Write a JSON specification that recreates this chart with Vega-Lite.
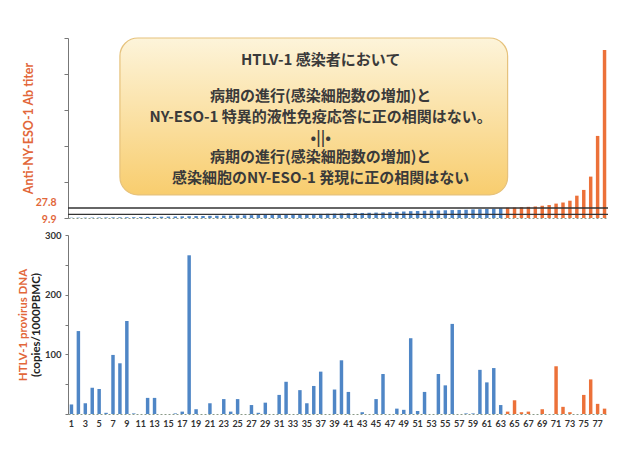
{
  "$schema": "https://vega.github.io/schema/vega-lite/v6.json",
  "padding": {"left": 17, "top": 37, "right": 8, "bottom": 5},
  "background": "white",
  "bounds": "flush",
  "spacing": 17,
  "config": {
    "view": {"stroke": null},
    "font": "Lato",
    "axis": {"grid": false, "labelFont": "Lato", "titleFont": "Lato"}
  },
  "datasets": {
    "pts": [
      {"id":1,"titer":0.8,"dna":16},{"id":2,"titer":1.0,"dna":139},{"id":3,"titer":1.0,"dna":18},{"id":4,"titer":1.2,"dna":44},{"id":5,"titer":1.4,"dna":42},
      {"id":6,"titer":1.5,"dna":2},{"id":7,"titer":1.7,"dna":99},{"id":8,"titer":1.9,"dna":85},{"id":9,"titer":2.0,"dna":156},{"id":10,"titer":2.2,"dna":1},
      {"id":11,"titer":2.5,"dna":0},{"id":12,"titer":3.0,"dna":27},{"id":13,"titer":3.3,"dna":27},{"id":14,"titer":3.6,"dna":0},{"id":15,"titer":4.0,"dna":0},
      {"id":16,"titer":4.3,"dna":1},{"id":17,"titer":4.6,"dna":4},{"id":18,"titer":5.0,"dna":266},{"id":19,"titer":5.3,"dna":8},{"id":20,"titer":5.6,"dna":0},
      {"id":21,"titer":6.0,"dna":18},{"id":22,"titer":6.3,"dna":0},{"id":23,"titer":6.6,"dna":25},{"id":24,"titer":7.0,"dna":4},{"id":25,"titer":7.3,"dna":25},
      {"id":26,"titer":7.6,"dna":0},{"id":27,"titer":8.0,"dna":15},{"id":28,"titer":8.3,"dna":2},{"id":29,"titer":8.6,"dna":19},{"id":30,"titer":9.0,"dna":0},
      {"id":31,"titer":9.3,"dna":32},{"id":32,"titer":9.6,"dna":54},{"id":33,"titer":10.0,"dna":0},{"id":34,"titer":10.3,"dna":40},{"id":35,"titer":10.6,"dna":18},
      {"id":36,"titer":11.0,"dna":47},{"id":37,"titer":11.4,"dna":71},{"id":38,"titer":11.8,"dna":0},{"id":39,"titer":12.2,"dna":41},{"id":40,"titer":12.6,"dna":90},
      {"id":41,"titer":13.0,"dna":37},{"id":42,"titer":13.5,"dna":0},{"id":43,"titer":14.0,"dna":3},{"id":44,"titer":14.5,"dna":0},{"id":45,"titer":15.0,"dna":25},
      {"id":46,"titer":15.5,"dna":67},{"id":47,"titer":16.0,"dna":0},{"id":48,"titer":17.0,"dna":9},{"id":49,"titer":18.0,"dna":7},{"id":50,"titer":19.0,"dna":127},
      {"id":51,"titer":19.5,"dna":5},{"id":52,"titer":20.0,"dna":37},{"id":53,"titer":20.5,"dna":0},{"id":54,"titer":21.0,"dna":67},{"id":55,"titer":21.5,"dna":48},
      {"id":56,"titer":22.0,"dna":151},{"id":57,"titer":22.5,"dna":0},{"id":58,"titer":23.0,"dna":1},{"id":59,"titer":24.0,"dna":1},{"id":60,"titer":24.5,"dna":74},
      {"id":61,"titer":25.0,"dna":53},{"id":62,"titer":26.0,"dna":77},{"id":63,"titer":27.0,"dna":15},{"id":64,"titer":28.5,"dna":4},{"id":65,"titer":29,"dna":23},
      {"id":66,"titer":30,"dna":3},{"id":67,"titer":31,"dna":4},{"id":68,"titer":32,"dna":0},{"id":69,"titer":34,"dna":8},{"id":70,"titer":36,"dna":0},
      {"id":71,"titer":40,"dna":80},{"id":72,"titer":43,"dna":12},{"id":73,"titer":48,"dna":3},{"id":74,"titer":62,"dna":0},{"id":75,"titer":78,"dna":32},
      {"id":76,"titer":115,"dna":58},{"id":77,"titer":228,"dna":17},{"id":78,"titer":467,"dna":9}
    ],
    "refs": [{"v": 27.8}, {"v": 9.9}],
    "note": [
      {"t": "HTLV-1 感染者において", "y": 439},
      {"t": "病期の進行(感染細胞数の増加)と", "y": 339},
      {"t": "NY-ESO-1 特異的液性免疫応答に正の相関はない。", "y": 280},
      {"t": "•||•", "y": 222},
      {"t": "病期の進行(感染細胞数の増加)と", "y": 169},
      {"t": "感染細胞のNY-ESO-1 発現に正の相関はない", "y": 110}
    ]
  },
  "vconcat": [
    {
      "width": 540,
      "height": 180,
      "resolve": {"axis": {"y": "independent"}},
      "layer": [
        {
          "data": {"name": "pts"},
          "mark": {"type": "bar"},
          "encoding": {
            "x": {
              "field": "id", "type": "ordinal",
              "scale": {"domain": [1,2,3,4,5,6,7,8,9,10,11,12,13,14,15,16,17,18,19,20,21,22,23,24,25,26,27,28,29,30,31,32,33,34,35,36,37,38,39,40,41,42,43,44,45,46,47,48,49,50,51,52,53,54,55,56,57,58,59,60,61,62,63,64,65,66,67,68,69,70,71,72,73,74,75,76,77,78], "paddingInner": 0.5, "paddingOuter": 0.25},
              "axis": {"labels": false, "ticks": false, "title": null, "domainColor": "#8a9a88", "domainDash": [2, 2]}
            },
            "y": {
              "field": "titer", "type": "quantitative",
              "scale": {"domain": [0, 500], "nice": false},
              "axis": {
                "orient": "left",
                "values": [0, 100, 200, 300, 400, 500],
                "labels": false,
                "tickSize": 4, "tickColor": "#777", "domainColor": "#777",
                "title": null
              }
            },
            "color": {"condition": {"test": "datum.titer > 27.8", "value": "#ec7139"}, "value": "#4f86c6"}
          }
        },
        {
          "data": {"name": "refs"},
          "mark": {"type": "rule", "color": "#333333", "strokeWidth": 1.3},
          "encoding": {
            "y": {
              "field": "v", "type": "quantitative",
              "axis": {
                "orient": "left",
                "values": [9.9, 27.8],
                "labelExpr": "datum.value == 9.9 ? '9.9' : '27.8'",
                "labelColor": "#e2673a", "labelFontWeight": "bold", "labelFontSize": 10.5,
                "labelOverlap": false, "labelBound": false, "labelFlush": false,
                "labelBaseline": {"condition": {"test": "datum.value < 20", "value": "top"}, "value": "bottom"},
                "labelPadding": 12,
                "ticks": false, "domain": false,
                "title": "Anti-NY-ESO-1 Ab titer", "titleColor": "#e2673a", "titleFontSize": 12.5,
                "titleFontWeight": "bold", "titlePadding": 0
              }
            }
          }
        },
        {
          "data": {"values": [{}]},
          "mark": {
            "type": "rect", "cornerRadius": 18, "stroke": "#e6c27c", "strokeWidth": 1.2,
            "fill": {"gradient": "linear", "x1": 0, "y1": 0, "x2": 0, "y2": 1,
              "stops": [{"offset": 0, "color": "#fdf4da"}, {"offset": 1, "color": "#f8cd6e"}]}
          },
          "encoding": {
            "x": {"datum": 8, "type": "ordinal"},
            "x2": {"datum": 64},
            "y": {"datum": 64, "type": "quantitative", "axis": null},
            "y2": {"datum": 500}
          }
        },
        {
          "data": {"name": "note"},
          "mark": {"type": "text", "font": "Noto Sans CJK JP", "fontWeight": "bold", "fontSize": 15, "color": "#3a3a3a", "baseline": "middle"},
          "encoding": {
            "x": {"datum": 37, "type": "ordinal"},
            "y": {"field": "y", "type": "quantitative", "axis": null},
            "text": {"field": "t"}
          }
        }
      ]
    },
    {
      "width": 540,
      "height": 179,
      "data": {"name": "pts"},
      "resolve": {"axis": {"y": "independent"}},
      "layer": [
        {
          "mark": {"type": "bar"},
          "encoding": {
            "x": {
              "field": "id", "type": "ordinal",
              "scale": {"paddingInner": 0.5, "paddingOuter": 0.25},
              "axis": {"labelExpr": "datum.value % 2 == 1 ? datum.label : ''", "labelAngle": 0, "ticks": false,
                "labelFontSize": 9, "labelFontWeight": "bold", "labelColor": "#333", "labelPadding": 5,
                "title": null, "domainColor": "#8a9a88", "domainDash": [2, 2]}
            },
            "y": {
              "field": "dna", "type": "quantitative",
              "scale": {"domain": [0, 300], "nice": false},
              "axis": {
                "orient": "left",
                "values": [0, 50, 100, 150, 200, 250, 300],
                "labelExpr": "datum.value > 0 && datum.value % 100 == 0 ? datum.label : ''",
                "labelFontSize": 9.5, "labelFontWeight": "bold", "labelColor": "#333", "labelPadding": 4,
                "tickSize": 3, "tickColor": "#777", "domainColor": "#777",
                "title": "(copies/1000PBMC)", "titleColor": "#222", "titleFontSize": 11.5,
                "titleFontWeight": "bold", "titlePadding": 3
              }
            },
            "color": {"condition": {"test": "datum.titer > 27.8", "value": "#ec7139"}, "value": "#4f86c6"}
          }
        },
        {
          "mark": {"type": "bar", "opacity": 0},
          "encoding": {
            "x": {"field": "id", "type": "ordinal"},
            "y": {
              "field": "dna", "type": "quantitative",
              "axis": {"orient": "left", "labels": false, "ticks": false, "domain": false, "offset": 38,
                "title": "HTLV-1 provirus DNA", "titleColor": "#e2673a", "titleFontSize": 11.5,
                "titleFontWeight": "bold", "titlePadding": 2}
            }
          }
        }
      ]
    }
  ]
}
